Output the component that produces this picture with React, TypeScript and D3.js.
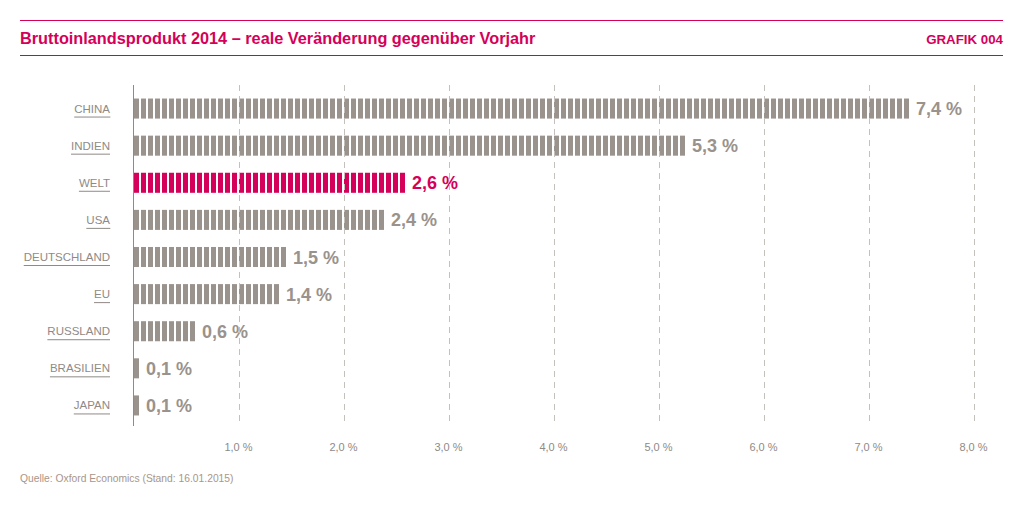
import React, { useRef, useEffect } from 'react';
import * as d3 from 'd3';

const categories = ['CHINA', 'INDIEN', 'WELT', 'USA', 'DEUTSCHLAND', 'EU', 'RUSSLAND', 'BRASILIEN', 'JAPAN'];
const values = [7.4, 5.3, 2.6, 2.4, 1.5, 1.4, 0.6, 0.1, 0.1];
const highlight = ['WELT'];
const ticks = [1, 2, 3, 4, 5, 6, 7, 8];

const MAGENTA = '#d5005a';
const GRAY = '#9a928c';
const LABEL = '#8f8a86';

const App: React.FC = () => {
  const svgRef = useRef<SVGSVGElement>(null);
  const width = 1022;
  const height = 505;

  useEffect(() => {
    if (!svgRef.current) return;
    const svg = d3.select(svgRef.current);
    svg.selectAll('*').remove();

    const font = '"Liberation Sans", Arial, sans-serif';
    const x0 = 133.5;

    const x = d3.scaleLinear().domain([0, 8]).range([x0, 973.5]);
    const y = d3.scaleBand<string>()
      .domain(categories)
      .range([90, 424])
      .paddingInner(0.46)
      .paddingOuter(0.23);

    // header
    svg.append('line')
      .attr('x1', 20).attr('x2', 1003).attr('y1', 20.5).attr('y2', 20.5)
      .attr('stroke', MAGENTA).attr('stroke-width', 1);
    svg.append('line')
      .attr('x1', 20).attr('x2', 1003).attr('y1', 55.5).attr('y2', 55.5)
      .attr('stroke', MAGENTA).attr('stroke-width', 1);
    svg.append('text')
      .attr('x', 20).attr('y', 44)
      .attr('font-family', font).attr('font-size', 16.3).attr('font-weight', 'bold')
      .attr('fill', MAGENTA)
      .text('Bruttoinlandsprodukt 2014 – reale Veränderung gegenüber Vorjahr');
    svg.append('text')
      .attr('x', 1003).attr('y', 44)
      .attr('text-anchor', 'end')
      .attr('font-family', font).attr('font-size', 13.3).attr('font-weight', 'bold')
      .attr('fill', MAGENTA)
      .text('GRAFIK 004');

    // stripe patterns
    const period = 7;
    const stripeW = 5;
    const defs = svg.append('defs');
    [['stripe-gray', GRAY], ['stripe-mag', MAGENTA]].forEach(([id, c]) => {
      const p = defs.append('pattern')
        .attr('id', id)
        .attr('patternUnits', 'userSpaceOnUse')
        .attr('x', x0 + 0.5).attr('y', 0)
        .attr('width', period).attr('height', 10);
      p.append('rect').attr('width', stripeW).attr('height', 10).attr('fill', c);
    });

    // bars
    const g = svg.append('g');
    categories.forEach((cat, i) => {
      const v = values[i];
      const isHi = highlight.includes(cat);
      const w = x(v) - x0;
      const n = Math.max(1, Math.floor(w / period));
      const barW = (n - 1) * period + stripeW;
      const by = y(cat)!;
      g.append('rect')
        .attr('x', x0 + 0.5).attr('y', by)
        .attr('width', barW).attr('height', y.bandwidth())
        .attr('fill', `url(#${isHi ? 'stripe-mag' : 'stripe-gray'})`);
      g.append('text')
        .attr('x', x0 + 0.5 + barW + 7)
        .attr('y', by + y.bandwidth() / 2 + 6.5)
        .attr('font-family', font).attr('font-size', 18).attr('font-weight', 'bold')
        .attr('fill', isHi ? MAGENTA : GRAY)
        .text(`${d3.format('.1f')(v).replace('.', ',')} %`);

      // category label with underline
      const lbl = svg.append('text')
        .attr('x', 110)
        .attr('y', by + y.bandwidth() / 2 + 4)
        .attr('text-anchor', 'end')
        .attr('font-family', font).attr('font-size', 11.5)
        .attr('fill', LABEL)
        .text(cat);
      const bb = (lbl.node() as SVGTextElement).getBBox();
      svg.append('line')
        .attr('x1', bb.x).attr('x2', bb.x + bb.width)
        .attr('y1', by + y.bandwidth() / 2 + 8.5).attr('y2', by + y.bandwidth() / 2 + 8.5)
        .attr('stroke', LABEL).attr('stroke-width', 1);
    });

    // gridlines on top of bars
    svg.append('g')
      .selectAll('line')
      .data(ticks)
      .enter()
      .append('line')
      .attr('x1', d => Math.round(x(d)) + 0.5)
      .attr('x2', d => Math.round(x(d)) + 0.5)
      .attr('y1', 85).attr('y2', 425)
      .attr('stroke', '#c4c0bc').attr('stroke-width', 1)
      .attr('stroke-dasharray', '6,5');

    // zero axis
    svg.append('line')
      .attr('x1', x0).attr('x2', x0).attr('y1', 85).attr('y2', 426)
      .attr('stroke', '#8f8a86').attr('stroke-width', 1);

    // tick labels
    svg.append('g')
      .selectAll('text')
      .data(ticks)
      .enter()
      .append('text')
      .attr('x', d => x(d))
      .attr('y', 451)
      .attr('text-anchor', 'middle')
      .attr('font-family', font).attr('font-size', 11)
      .attr('fill', LABEL)
      .text(d => `${d3.format('.1f')(d).replace('.', ',')} %`);

    // source
    svg.append('text')
      .attr('x', 20).attr('y', 482)
      .attr('font-family', font).attr('font-size', 10.3)
      .attr('fill', '#a8968a')
      .text('Quelle: Oxford Economics (Stand: 16.01.2015)');
  }, []);

  return (
    <div style={{ position: 'absolute', left: 0, top: 0 }}>
      <svg ref={svgRef} width={width} height={height} style={{ display: 'block', background: '#fff' }} />
    </div>
  );
};

export default App;
